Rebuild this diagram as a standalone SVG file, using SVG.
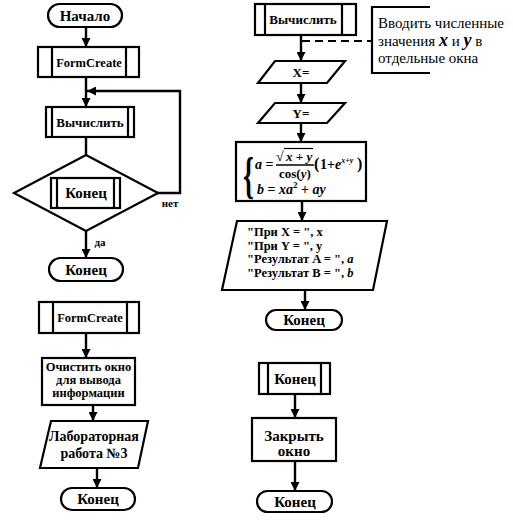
<svg xmlns="http://www.w3.org/2000/svg" width="513" height="526" viewBox="0 0 513 526" font-family="Liberation Serif, Times New Roman, serif">
<defs>
<marker id="ah" viewBox="0 0 10 10" refX="10" refY="5" markerWidth="9" markerHeight="9" markerUnits="userSpaceOnUse" orient="auto">
<path d="M0,0 L10,5 L0,10 z" fill="#000"/>
</marker>
</defs>
<style>
.s{fill:#fff;stroke:#000;stroke-width:2.2}
.l{fill:none;stroke:#000;stroke-width:2.2}
.c{fill:none;stroke:#000;stroke-width:2.4}
.t{font-weight:bold;fill:#000;text-anchor:middle}
.r{fill:#000}
.m{font-weight:bold;fill:#000}
.i{font-style:italic}
</style>
<rect width="513" height="526" fill="#fff"/>

<g id="connectors">
<line class="c" x1="86" y1="27" x2="86" y2="47" marker-end="url(#ah)"/>
<line class="c" x1="86" y1="77" x2="86" y2="107" marker-end="url(#ah)"/>
<polyline class="c" points="157,193 180,193 180,91 87,91" marker-end="url(#ah)"/>
<line class="c" x1="86" y1="137" x2="86" y2="155"/>
<line class="c" x1="86" y1="231" x2="86" y2="258" marker-end="url(#ah)"/>
<line class="c" x1="86" y1="333" x2="86" y2="358" marker-end="url(#ah)"/>
<line class="c" x1="93" y1="405" x2="93" y2="421" marker-end="url(#ah)"/>
<line class="c" x1="97" y1="468" x2="97" y2="488" marker-end="url(#ah)"/>
<line class="c" x1="301" y1="35" x2="301" y2="61" marker-end="url(#ah)"/>
<line x1="302" y1="41" x2="372" y2="41" stroke="#000" stroke-width="2.2" stroke-dasharray="8,5"/>
<line class="c" x1="301" y1="83" x2="301" y2="103" marker-end="url(#ah)"/>
<line class="c" x1="301" y1="123" x2="301" y2="142" marker-end="url(#ah)"/>
<line class="c" x1="302" y1="201" x2="302" y2="221" marker-end="url(#ah)"/>
<line class="c" x1="305" y1="290" x2="305" y2="310" marker-end="url(#ah)"/>
<line class="c" x1="295" y1="394" x2="295" y2="418" marker-end="url(#ah)"/>
<line class="c" x1="295" y1="461" x2="295" y2="491" marker-end="url(#ah)"/>
<text class="t" x="170" y="207" font-size="11">нет</text>
<text class="t" x="100" y="246" font-size="11">да</text>
</g>

<g id="start1">
<rect class="s" x="48" y="4" width="74" height="23" rx="11.5"/>
<text class="t" x="85" y="21" font-size="15">Начало</text>
</g>
<g id="formcreate1">
<rect class="s" x="38" y="47" width="101" height="30"/>
<line class="l" x1="52" y1="47" x2="52" y2="77"/>
<line class="l" x1="126" y1="47" x2="126" y2="77"/>
<text class="t" x="89" y="67" font-size="12.5">FormCreate</text>
</g>
<g id="calc1">
<rect class="s" x="46" y="107" width="88" height="30"/>
<line class="l" x1="52" y1="107" x2="52" y2="137"/>
<line class="l" x1="128" y1="107" x2="128" y2="137"/>
<text class="t" x="90" y="127" font-size="13">Вычислить</text>
</g>
<g id="decision">
<polygon class="s" points="86,155 158,193 86,231 14,193"/>
<rect class="s" x="51" y="178" width="69" height="30"/>
<line class="l" x1="57" y1="178" x2="57" y2="208"/>
<line class="l" x1="114" y1="178" x2="114" y2="208"/>
<text class="t" x="86" y="198" font-size="15">Конец</text>
</g>
<g id="end1">
<rect class="s" x="49" y="258" width="74" height="23" rx="11.5"/>
<text class="t" x="86" y="275" font-size="15">Конец</text>
</g>

<g id="formcreate2">
<rect class="s" x="39" y="302" width="100" height="31"/>
<line class="l" x1="53" y1="302" x2="53" y2="333"/>
<line class="l" x1="127" y1="302" x2="127" y2="333"/>
<text class="t" x="90" y="322" font-size="12.5">FormCreate</text>
</g>
<g id="clear">
<rect class="s" x="42" y="358" width="93" height="47"/>
<text class="t" x="88.5" y="371" font-size="12.5">Очистить окно</text>
<text class="t" x="88.5" y="384" font-size="12.5">для вывода</text>
<text class="t" x="88.5" y="397" font-size="12.5">информации</text>
</g>
<g id="labout">
<polygon class="s" points="51,421 148,421 138,468 40,468"/>
<text class="t" x="94" y="441" font-size="14">Лабораторная</text>
<text class="t" x="94" y="458" font-size="14">работа №3</text>
</g>
<g id="end2">
<rect class="s" x="61" y="488" width="74" height="22" rx="11"/>
<text class="t" x="98" y="504" font-size="15">Конец</text>
</g>

<g id="calc2">
<rect class="s" x="255" y="4" width="101" height="31"/>
<line class="l" x1="265" y1="4" x2="265" y2="35"/>
<line class="l" x1="342" y1="4" x2="342" y2="35"/>
<text class="t" x="303" y="24" font-size="13">Вычислить</text>
</g>
<g id="comment">
<path class="l" d="M430,7 H372 V73 H430"/>
<text class="r" x="378" y="28" font-size="15">Вводить численные</text>
<text class="r" x="378" y="46" font-size="15">значения <tspan font-weight="bold" font-style="italic" font-size="18">x</tspan> и <tspan font-weight="bold" font-style="italic" font-size="18">y</tspan> в</text>
<text class="r" x="378" y="63" font-size="15">отдельные окна</text>
</g>
<g id="inputX">
<polygon class="s" points="275,61 345,61 327,83 258,83"/>
<text class="t" x="301" y="77" font-size="13">X=</text>
</g>
<g id="inputY">
<polygon class="s" points="275,103 345,103 327,123 258,123"/>
<text class="t" x="301" y="118" font-size="13">Y=</text>
</g>
<g id="formula">
<rect class="s" x="236" y="142" width="130" height="59"/>
<text class="m" x="243" y="192" font-size="50" transform="translate(243,0) scale(0.55,1) translate(-243,0)" font-weight="normal">{</text>
<text class="m" x="255" y="169" font-size="14"><tspan class="i">a</tspan> =</text>
<text class="m" x="276" y="161" font-size="14">√</text>
<line x1="284" y1="148.5" x2="313" y2="148.5" stroke="#000" stroke-width="1.2"/>
<text class="m i" x="286" y="161" font-size="13">x + y</text>
<line x1="276" y1="165" x2="314" y2="165" stroke="#000" stroke-width="1.3"/>
<text class="m" x="279" y="178" font-size="13">cos(<tspan class="i">y</tspan>)</text>
<text class="m" x="314" y="169" font-size="16">(</text>
<text class="m" x="320" y="169" font-size="14">1+<tspan class="i">e</tspan><tspan class="i" font-size="8" dy="-6">x+y</tspan></text>
<text class="m" x="357" y="169" font-size="16">)</text>
<text class="m" x="257" y="194" font-size="14"><tspan class="i">b</tspan> = <tspan class="i">xa</tspan><tspan font-size="9" dy="-6">2</tspan><tspan dy="6"> + </tspan><tspan class="i">ay</tspan></text>
</g>
<g id="output">
<polygon class="s" points="237,221 387,221 373,290 222,290"/>
<text class="m" x="247" y="236" font-size="12.5">"При X = ", x</text>
<text class="m" x="247" y="249.5" font-size="12.5">"При Y = ", y</text>
<text class="m" x="247" y="263" font-size="12.5">"Результат A = ", <tspan class="i">a</tspan></text>
<text class="m" x="247" y="276.5" font-size="12.5">"Результат B = ", <tspan class="i">b</tspan></text>
</g>
<g id="end3">
<rect class="s" x="266" y="310" width="76" height="20" rx="10"/>
<text class="t" x="304" y="325" font-size="15">Конец</text>
</g>

<g id="konec-proc">
<rect class="s" x="259" y="363" width="71" height="31"/>
<line class="l" x1="268" y1="363" x2="268" y2="394"/>
<line class="l" x1="321" y1="363" x2="321" y2="394"/>
<text class="t" x="295" y="384" font-size="15">Конец</text>
</g>
<g id="close">
<rect class="s" x="252" y="418" width="84" height="43"/>
<text class="t" x="294" y="441" font-size="15">Закрыть</text>
<text class="t" x="294" y="456" font-size="15">окно</text>
</g>
<g id="end4">
<rect class="s" x="257" y="491" width="75" height="21" rx="10.5"/>
<text class="t" x="295" y="507" font-size="15">Конец</text>
</g>
</svg>
